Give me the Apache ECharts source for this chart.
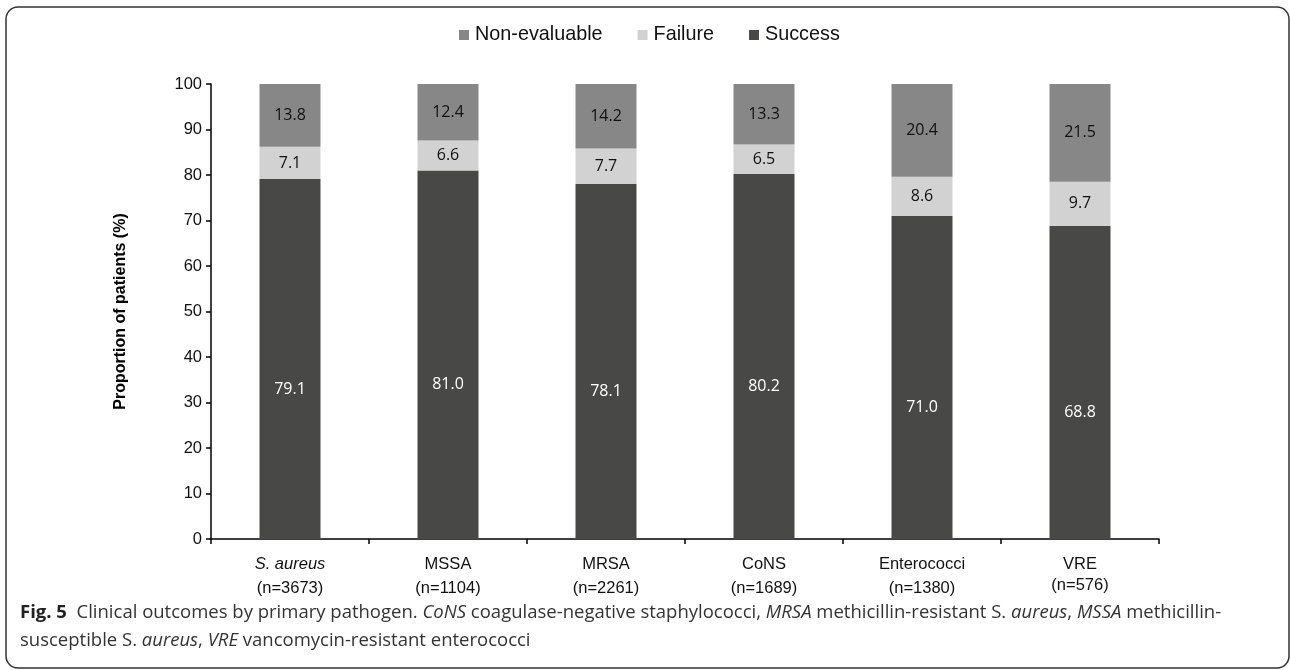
<!DOCTYPE html>
<html>
<head>
<meta charset="utf-8">
<script src="https://cdn.jsdelivr.net/npm/echarts@6/dist/echarts.min.js"></script>
<style>
  html, body { margin: 0; padding: 0; background: #fff; }
  #chart { width: 1290px; height: 670px; }
</style>
</head>
<body>
<div id="chart"></div>
<script>
// Pathogen groups and their patient counts
const pathogens = ['S. aureus', 'MSSA', 'MRSA', 'CoNS', 'Enterococci', 'VRE'];
const patientCounts = ['(n=3673)', '(n=1104)', '(n=2261)', '(n=1689)', '(n=1380)', '(n=576)'];

// Outcome shares (%) per pathogen
const success = [79.1, 81.0, 78.1, 80.2, 71.0, 68.8];
const failure = [7.1, 6.6, 7.7, 6.5, 8.6, 9.7];
const nonEvaluable = [13.8, 12.4, 14.2, 13.3, 20.4, 21.5];

const yTicks = [0, 10, 20, 30, 40, 50, 60, 70, 80, 90, 100];

const chart = echarts.init(document.getElementById('chart'), null, { renderer: 'canvas' });

const sans = '"Liberation Sans", Arial, sans-serif';
const barLabelFont = '"Open Sans", "Noto Sans", sans-serif';

function seg(name, data, color, labelColor, offset) {
  return {
    name: name,
    type: 'bar',
    stack: 'outcome',
    data: data,
    barWidth: 61,
    itemStyle: { color: color },
    label: {
      show: true,
      position: 'inside',
      offset: offset,
      color: labelColor,
      fontFamily: barLabelFont,
      fontSize: 16,
      formatter: p => p.value.toFixed(1)
    },
    emphasis: { disabled: true }
  };
}

const option = {
  animation: false,
  backgroundColor: '#ffffff',
  legend: {
    top: 20,
    left: 454,
    data: ['Non-evaluable', 'Failure', 'Success'],
    icon: 'rect',
    itemWidth: 10,
    itemHeight: 10,
    itemGap: 35,
    textStyle: { fontFamily: sans, fontSize: 19.8, color: '#111', padding: [0, 0, 0, 1] },
    selectedMode: false
  },
  grid: { left: 211, right: 131, top: 84, bottom: 131, containLabel: false },
  xAxis: {
    type: 'category',
    data: pathogens,
    axisLine: { lineStyle: { color: '#000', width: 1.5 } },
    axisTick: { show: true, length: 5, lineStyle: { color: '#000', width: 1.5 } },
    axisLabel: {
      interval: 0,
      margin: 13,
      formatter: (v, i) => (i === 0 ? '{it|' + v + '}' : '{n|' + v + '}') + '\n' +
        (i === pathogens.length - 1 ? '{nv|' : '{n|') + patientCounts[i] + '}',
      rich: {
        it: { fontFamily: sans, fontSize: 16.5, fontStyle: 'italic', color: '#111', lineHeight: 24 },
        n: { fontFamily: sans, fontSize: 16.5, color: '#111', lineHeight: 24 },
        nv: { fontFamily: sans, fontSize: 16.5, color: '#111', lineHeight: 19 }
      }
    }
  },
  yAxis: {
    type: 'value',
    min: 0,
    max: 100,
    interval: 10,
    name: 'Proportion of patients (%)',
    nameLocation: 'middle',
    nameGap: 82,
    nameRotate: 90,
    nameTextStyle: { fontFamily: sans, fontSize: 16, fontWeight: 'bold', color: '#000' },
    splitLine: { show: false },
    axisLine: { show: true, lineStyle: { color: '#000', width: 1.5 } },
    axisTick: { show: true, length: 5, lineStyle: { color: '#000', width: 1.5 } },
    axisLabel: {
      margin: 9,
      fontFamily: sans,
      fontSize: 16.5,
      color: '#111',
      formatter: v => (yTicks.indexOf(v) >= 0 ? String(v) : '')
    }
  },
  series: [
    seg('Success', success, '#484846', '#ffffff', [0, 30]),
    seg('Failure', failure, '#d1d2d1', '#111111', [0, 0]),
    seg('Non-evaluable', nonEvaluable, '#878787', '#111111', [0, 0])
  ],
  graphic: [
    {
      type: 'rect',
      shape: { x: 6, y: 7, width: 1283, height: 661, r: 12 },
      style: { fill: 'none', stroke: '#333', lineWidth: 1.5 },
      silent: true
    },
    {
      type: 'text',
      left: 20,
      top: 599,
      style: {
        text: '{b|Fig. 5}  Clinical outcomes by primary pathogen. {i|CoNS} coagulase-negative staphylococci, {i|MRSA} methicillin-resistant {n|S.} {i|aureus}, {i|MSSA} methicillin-\nsusceptible {n|S.} {i|aureus}, {i|VRE} vancomycin-resistant enterococci',
        font: '18.5px "Open Sans", sans-serif',
        fill: '#333',
        lineHeight: 28,
        rich: {
          b: { fontFamily: '"Open Sans", sans-serif', fontSize: 18.5, fontWeight: 'bold', fill: '#222', lineHeight: 28 },
          i: { fontFamily: '"Open Sans", sans-serif', fontSize: 18.5, fontStyle: 'italic', fill: '#333', lineHeight: 28 },
          n: { fontFamily: '"Open Sans", sans-serif', fontSize: 18.5, fill: '#333', lineHeight: 28 }
        }
      }
    }
  ]
};

chart.setOption(option);
</script>
</body>
</html>
